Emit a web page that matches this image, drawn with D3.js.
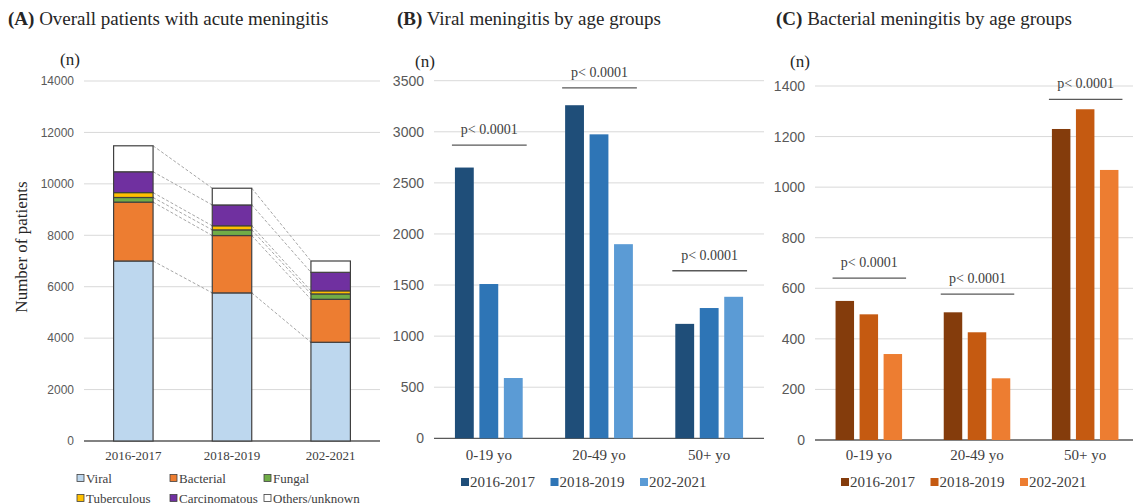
<!DOCTYPE html>
<html>
<head>
<meta charset="utf-8">
<script src="https://cdn.jsdelivr.net/npm/d3@7"></script>
<style>
  body { margin: 0; background: #fff; }
  svg { display: block; }
  .serif { font-family: "Liberation Serif", "Times New Roman", serif; }
  .tick text { font-family: "Liberation Sans", Arial, sans-serif; fill: #595959; }
</style>
</head>
<body>
<svg id="chart" width="1133" height="504"></svg>
<script>
// ---- panel A: stacked totals by period
var periods = ["2016-2017", "2018-2019", "202-2021"]
var types = ["Viral", "Bacterial", "Fungal", "Tuberculous", "Carcinomatous", "Others/unknown"]
var typeColors = ["#bdd7ee", "#ed7d31", "#70ad47", "#ffc000", "#7030a0", "#ffffff"]
var viral = [7000, 5760, 3840]
var bacterial = [2290, 2230, 1670]
var fungal = [180, 220, 210]
var tuberculous = [190, 160, 120]
var carcinomatous = [810, 810, 720]
var others = [1010, 650, 440]
var ticksA = [0, 2000, 4000, 6000, 8000, 10000, 12000, 14000]

// ---- panels B and C: by age group
var ageGroups = ["0-19 yo", "20-49 yo", "50+ yo"]
var viralByAge = {
  "2016-2017": [2650, 3260, 1120],
  "2018-2019": [1510, 2975, 1275],
  "202-2021": [590, 1900, 1385]
}
var bactByAge = {
  "2016-2017": [550, 505, 1230],
  "2018-2019": [497, 426, 1308],
  "202-2021": [340, 244, 1068]
}
var ticksB = [0, 500, 1000, 1500, 2000, 2500, 3000, 3500]
var ticksC = [0, 200, 400, 600, 800, 1000, 1200, 1400]
var pLabel = "p< 0.0001"
var pLevelsB = [2870, 3430, 1640]
var pLevelsC = [640, 577, 1347]
var blues = ["#1f4e79", "#2e75b6", "#5b9bd5"]
var browns = ["#843c0c", "#c55a11", "#ed7d31"]

var svg = d3.select("#chart")
svg.append("rect").attr("width", 1133).attr("height", 504).attr("fill", "#fff")

function title(x, bold, rest) {
  var t = svg.append("text").attr("class", "serif")
    .attr("x", x).attr("y", 25)
    .style("font-size", "19px").attr("fill", "#262626")
  t.append("tspan").style("font-weight", "bold").text(bold)
  t.append("tspan").text(" " + rest)
}

function yAxisGrid(g, y, ticks, x0, x1, fs) {
  var ax = g.append("g")
    .attr("transform", "translate(" + x0 + ",0)")
    .call(d3.axisLeft(y).tickValues(ticks).tickSize(0).tickPadding(10).tickFormat(d3.format("d")))
  ax.select(".domain").remove()
  ax.selectAll("text").style("font-size", fs)
  g.selectAll(".grid").data(ticks.slice(1)).enter().append("line")
    .attr("x1", x0).attr("x2", x1)
    .attr("y1", d => y(d)).attr("y2", d => y(d))
    .attr("stroke", "#d9d9d9").attr("stroke-width", 1)
  g.append("line")
    .attr("x1", x0).attr("x2", x1)
    .attr("y1", y(0)).attr("y2", y(0))
    .attr("stroke", "#595959").attr("stroke-width", 1.3)
}

// ================= Panel A
title(8, "(A)", "Overall patients with acute meningitis")

var gA = svg.append("g")
var xA = d3.scaleBand().domain(periods).range([84, 380]).paddingInner(0.6).paddingOuter(0.3)
var yA = d3.scaleLinear().domain([0, 14000]).range([441, 81])
yAxisGrid(gA, yA, ticksA, 84, 380, "12px")

var series = [viral, bacterial, fungal, tuberculous, carcinomatous, others]
var rows = periods.map(function(p, i) {
  var r = { period: p }
  types.forEach(function(t, k) { r[t] = series[k][i] })
  return r
})
var stacked = d3.stack().keys(types)(rows)

// dashed connectors between neighbouring bars
stacked.forEach(function(layer) {
  for (var i = 0; i < periods.length - 1; i++) {
    gA.append("line")
      .attr("x1", xA(periods[i]) + xA.bandwidth())
      .attr("x2", xA(periods[i + 1]))
      .attr("y1", yA(layer[i][1]))
      .attr("y2", yA(layer[i + 1][1]))
      .attr("stroke", "#a6a6a6").attr("stroke-width", 1)
      .attr("stroke-dasharray", "3,2")
  }
})

gA.selectAll(".layer").data(stacked).enter().append("g")
  .attr("fill", (d, i) => typeColors[i])
  .selectAll("rect").data(d => d).enter().append("rect")
    .attr("x", d => xA(d.data.period))
    .attr("width", xA.bandwidth())
    .attr("y", d => yA(d[1]))
    .attr("height", d => yA(d[0]) - yA(d[1]))
    .attr("stroke", "#404040").attr("stroke-width", 1.2)

gA.selectAll(".xlab").data(periods).enter().append("text")
  .attr("class", "serif")
  .attr("x", d => xA(d) + xA.bandwidth() / 2)
  .attr("y", 460)
  .attr("text-anchor", "middle")
  .style("font-size", "13px").attr("fill", "#404040")
  .text(d => d)

gA.append("text").attr("class", "serif")
  .attr("x", 70).attr("y", 65).attr("text-anchor", "middle")
  .style("font-size", "17px").attr("fill", "#262626").text("(n)")

gA.append("text").attr("class", "serif")
  .attr("transform", "translate(27,247) rotate(-90)")
  .attr("text-anchor", "middle")
  .style("font-size", "17px").attr("fill", "#262626")
  .text("Number of patients")

var legA = gA.selectAll(".legA").data(types).enter().append("g")
  .attr("transform", (d, i) => "translate(" + [77, 170, 264][i % 3] + "," + (i < 3 ? 478 : 498) + ")")
legA.append("rect")
  .attr("x", 0).attr("y", -3.5).attr("width", 7).attr("height", 7)
  .attr("fill", (d, i) => typeColors[i])
  .attr("stroke", "#404040").attr("stroke-width", 0.8)
legA.append("text").attr("class", "serif")
  .attr("x", 9).attr("y", 4.5)
  .style("font-size", "13px").attr("fill", "#404040")
  .text(d => d)

// ================= Panels B and C
function groupedPanel(opt) {
  var g = svg.append("g")
  var x = d3.scaleBand().domain(ageGroups).range([opt.x0, opt.x1]).paddingInner(0.385).paddingOuter(0.19)
  var xs = d3.scaleBand().domain(periods).range([0, x.bandwidth()]).paddingInner(0.23)
  var y = d3.scaleLinear().domain([0, opt.max]).range([opt.yBottom, opt.yTop])
  yAxisGrid(g, y, opt.ticks, opt.x0, Math.min(opt.x1, 1133), "14px")

  var grp = g.selectAll(".grp").data(ageGroups).enter().append("g")
    .attr("transform", d => "translate(" + x(d) + ",0)")
  grp.selectAll("rect").data((d, gi) => periods.map((p, k) => ({ p: p, k: k, v: opt.data[p][gi] })))
    .enter().append("rect")
      .attr("x", d => xs(d.p))
      .attr("width", xs.bandwidth())
      .attr("y", d => y(d.v))
      .attr("height", d => y(0) - y(d.v))
      .attr("fill", d => opt.colors[d.k])

  // significance bars
  ageGroups.forEach(function(a, i) {
    var sx = x(a) - 3
    var ex = sx + x.bandwidth() + 7
    var ly = y(opt.pLevels[i])
    g.append("line")
      .attr("x1", sx).attr("x2", ex).attr("y1", ly).attr("y2", ly)
      .attr("stroke", "#595959").attr("stroke-width", 1.3)
    g.append("text").attr("class", "serif")
      .attr("x", (sx + ex) / 2).attr("y", ly - 11)
      .attr("text-anchor", "middle")
      .style("font-size", "14px").attr("fill", "#404040")
      .text(pLabel)
  })

  g.selectAll(".xlab").data(ageGroups).enter().append("text")
    .attr("class", "serif")
    .attr("x", d => x(d) + x.bandwidth() / 2)
    .attr("y", 460)
    .attr("text-anchor", "middle")
    .style("font-size", "15px").attr("fill", "#404040")
    .text(d => d)

  g.append("text").attr("class", "serif")
    .attr("x", opt.nx).attr("y", 67).attr("text-anchor", "middle")
    .style("font-size", "17px").attr("fill", "#262626").text("(n)")

  var leg = g.selectAll(".leg").data(periods).enter().append("g")
    .attr("transform", (d, i) => "translate(" + (opt.legX + i * 89.5) + ",482)")
  leg.append("rect")
    .attr("x", 0).attr("y", -4).attr("width", 8).attr("height", 8)
    .attr("fill", (d, i) => opt.colors[i])
  leg.append("text").attr("class", "serif")
    .attr("x", 9).attr("y", 5)
    .style("font-size", "15px").attr("fill", "#404040")
    .text(d => d)
}

title(397, "(B)", "Viral meningitis by age groups")
groupedPanel({
  data: viralByAge, colors: blues, ticks: ticksB, max: 3500, pLevels: pLevelsB,
  x0: 434, x1: 764, yBottom: 438.3, yTop: 80.7, nx: 425, legX: 461
})

title(776, "(C)", "Bacterial meningitis by age groups")
groupedPanel({
  data: bactByAge, colors: browns, ticks: ticksC, max: 1400, pLevels: pLevelsC,
  x0: 815, x1: 1139, yBottom: 440, yTop: 86, nx: 800, legX: 841
})
</script>
</body>
</html>
